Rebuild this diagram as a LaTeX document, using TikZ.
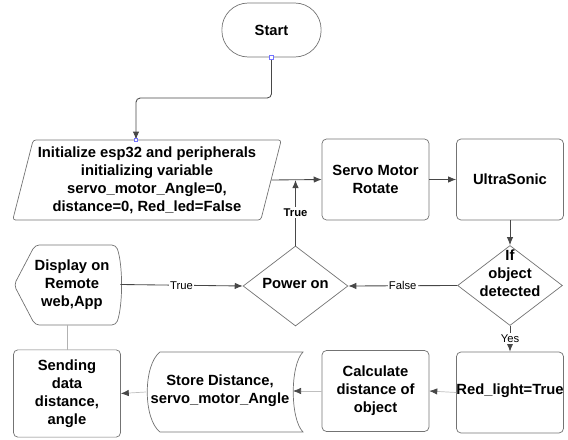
\documentclass[tikz,border=0pt]{standalone}
\usepackage{fontspec}
\setmainfont{Liberation Sans}
\usetikzlibrary{shapes.geometric,arrows.meta}
\begin{document}
\begin{tikzpicture}[x=0.025cm, y=-0.025cm,
font=\fontsize{10.5}{12.8}\selectfont\bfseries,
shp/.style={draw=black!55, line width=0.5pt},
box/.style={shp, rounded corners=3pt, align=center, minimum width=2.67cm, minimum height=2.02cm, inner sep=1pt},
term/.style={shp, rounded corners=0.66cm, minimum width=2.48cm, minimum height=1.35cm},
io/.style={shp, trapezium, trapezium left angle=75, trapezium right angle=105, trapezium stretches=true, rounded corners=2pt, align=center, minimum width=6.65cm, minimum height=2cm},
dec/.style={shp, diamond, minimum width=2.62cm, minimum height=2cm, inner sep=0pt},
lbl/.style={fill=white, font=\fontsize{8}{9}\selectfont, inner sep=1pt},
pin/.style={draw=blue!55, fill=white, line width=0.4pt, minimum size=2.5pt, inner sep=0pt},
arrow/.style={-{Latex[length=2mm,width=1.6mm]}, draw=black!72, line width=0.6pt},
faint/.style={-{Latex[length=2mm,width=1.6mm,color=black!72]}, draw=black!25, line width=0.5pt}
]
\useasboundingbox (0,0) rectangle (568,440);
% top row
\node[term] (start) at (271.5,30) {Start};
\node[io] (init) at (147,180) {Initialize esp32 and peripherals\\initializing variable\\servo\_motor\_Angle=0,\\distance=0, Red\_led=False};
\node[box] (servo) at (375.5,179.5) {Servo Motor\\Rotate};
\node[box] (ultra) at (510,179.5) {UltraSonic};
% middle row
\node[dec] (obj) at (510,285.5) {};
\node[align=center] (objtxt) at (510,273) {If\\object\\detected};
\node[dec] (pwr) at (295.5,286) {};
\node (pwrtxt) at (295.5,283) {Power on};
\draw[shp, rounded corners=3pt] (35,245) -- (116,245) .. controls (123,265) and (123,305) .. (116,325) -- (35,325) -- (14,285) -- cycle;
\node[align=center, minimum width=2.4cm, minimum height=2cm] (disp) at (72,284.5) {Display on\\Remote\\web,App};
% bottom row
\node[box, minimum height=2.18cm] (send) at (67,393.5) {Sending\\data\\distance,\\angle};
\draw[shp] (160,352) -- (303,352) .. controls (290,365) and (290,419) .. (303,432) -- (160,432) .. controls (143,419) and (143,365) .. (160,352) -- cycle;
\node[align=center] (store) at (220,391) {Store Distance,\\servo\_motor\_Angle};
\coordinate (storeR) at (293,391);
\coordinate (storeL) at (146,392);
\node[box] (calc) at (375.5,391) {Calculate\\distance of\\object};
\node[box] (red) at (510,392.5) {};
\node (redtxt) at (510,391) {Red\_light=True};
% connectors
\coordinate (bend) at (136,98);
\draw[arrow, rounded corners=3pt] (start.south) |- (bend) -- (bend |- init.north);
\node[pin] (startpin) at (start.south) {};
\node[pin] (initpin) at (bend |- init.north) {};
\draw[arrow] (init.east) -- (servo.west);
\draw[arrow] (servo.east) -- (ultra.west);
\draw[arrow] (ultra.south) -- (obj.north);
\draw[arrow] (obj.west) -- node[lbl] {False} (pwr.east);
\draw[arrow] (pwr.north) -- node[lbl, font=\fontsize{8}{9}\selectfont\bfseries] {True} (pwr.north |- init.east);
\draw[arrow] (disp.east) -- node[lbl] {True} (pwr.west);
\draw[arrow] (obj.south) -- node[lbl] {Yes} (red.north);
\draw[faint] (red.west) -- (calc.east);
\draw[faint] (calc.west) -- (storeR);
\draw[faint] (storeL) -- (send.east);
\draw[draw=black!30, line width=0.5pt] (send.north |- disp.south) -- (send.north);
\end{tikzpicture}
\end{document}
